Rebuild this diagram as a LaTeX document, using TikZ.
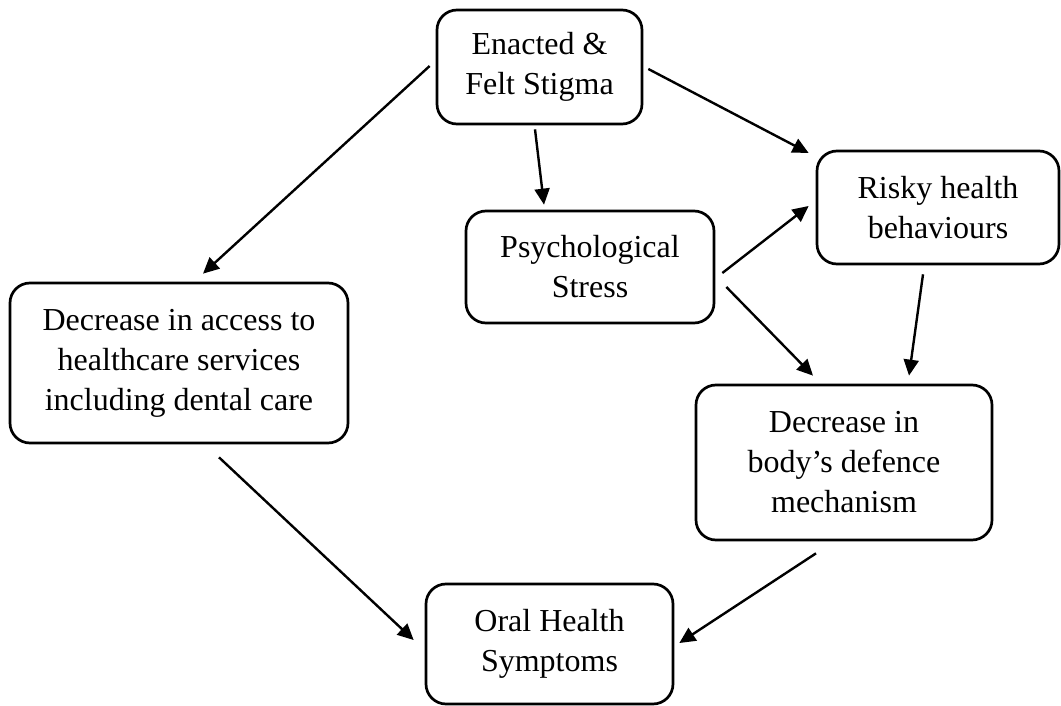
\documentclass[tikz,border=0pt]{standalone}
\usepackage{fontspec}
\setmainfont{Liberation Serif}
\usetikzlibrary{arrows.meta}
\begin{document}
\begin{tikzpicture}[x=1pt,y=-1pt,
  box/.style={draw=black, line width=2.7pt, rounded corners=20pt, align=center,
    inner sep=0pt, font=\fontsize{32}{40}\selectfont},
  arr/.style={line width=2.4pt, -{Triangle[length=16pt,width=15pt]}}]
\useasboundingbox (0,0) rectangle (1061,706);
\node[box, minimum width=205pt, minimum height=114pt] (enacted) at (539.5,67) {Enacted \&\\Felt Stigma};
\node[box, minimum width=248pt, minimum height=112pt] (psych) at (590,267) {Psychological\\Stress};
\node[box, minimum width=242pt, minimum height=113pt] (risky) at (938,207.5) {Risky health\\behaviours};
\node[box, minimum width=338pt, minimum height=160pt] (access) at (179,363) {Decrease in access to\\healthcare services\\including dental care};
\node[box, minimum width=296pt, minimum height=155pt] (body) at (844,462.5) {Decrease in\\body’s defence\\mechanism};
\node[box, minimum width=247pt, minimum height=120pt] (oral) at (549.5,644) {Oral Health\\Symptoms};
\draw[arr] ([shift={(-6,-1)}]enacted.west) -- ([shift={(24,-8)}]access.north);
\draw[arr] ([shift={(5,2)}]enacted.east) -- ([shift={(-7,-54.5)}]risky.west);
\draw[arr] ([shift={(-4.5,4)}]enacted.south) -- ([shift={(-46,-5)}]psych.north);
\draw[arr] ([shift={(7,6)}]psych.east) -- ([shift={(-7,-1.5)}]risky.west);
\draw[arr] ([shift={(11,20)}]psych.east) -- ([shift={(-31,-8)}]body.north);
\draw[arr] ([shift={(-15,9)}]risky.south) -- ([shift={(65,-8)}]body.north);
\draw[arr] ([shift={(40,13)}]access.south) -- ([shift={(-11,-4)}]oral.west);
\draw[arr] ([shift={(-28,12)}]body.south) -- ([shift={(5,-1)}]oral.east);
\end{tikzpicture}
\end{document}
